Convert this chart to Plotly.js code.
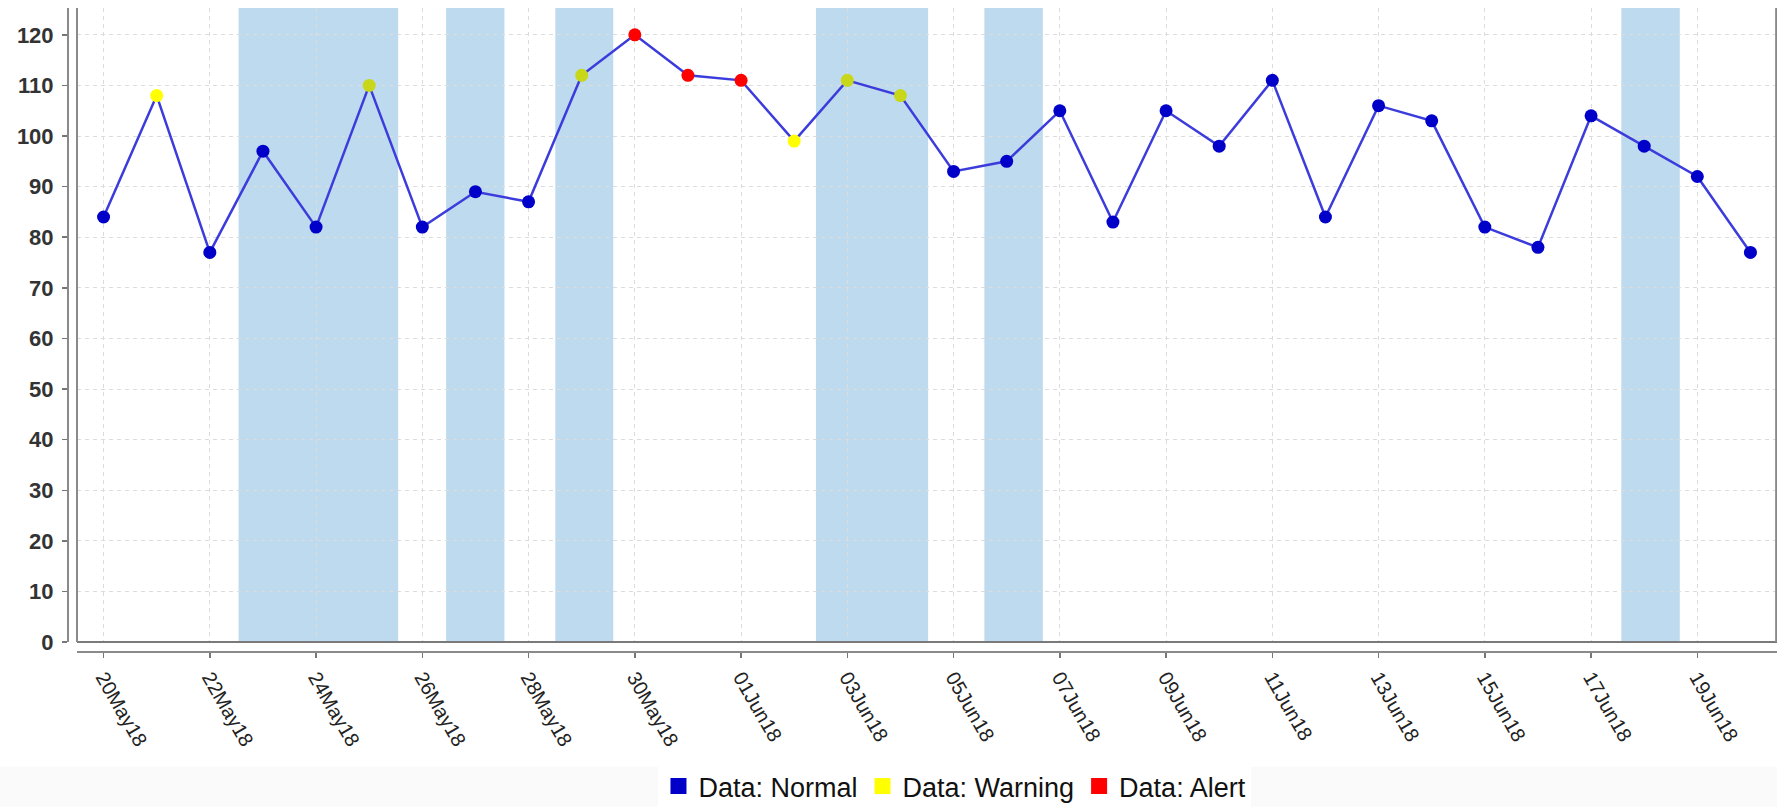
<!DOCTYPE html>
<html>
<head>
<meta charset="utf-8">
<script src="https://cdn.plot.ly/plotly-3.0.1.min.js"></script>
<style>
  html, body { margin: 0; padding: 0; background: #ffffff; }
  #chart { width: 1777px; height: 811px; }
</style>
</head>
<body>
<div id="chart"></div>
<script>
// readings, one per day
const dates = [
    '2018-05-20', '2018-05-21', '2018-05-22', '2018-05-23', '2018-05-24', '2018-05-25',
    '2018-05-26', '2018-05-27', '2018-05-28', '2018-05-29', '2018-05-30', '2018-05-31',
    '2018-06-01', '2018-06-02', '2018-06-03', '2018-06-04', '2018-06-05', '2018-06-06',
    '2018-06-07', '2018-06-08', '2018-06-09', '2018-06-10', '2018-06-11', '2018-06-12',
    '2018-06-13', '2018-06-14', '2018-06-15', '2018-06-16', '2018-06-17', '2018-06-18',
    '2018-06-19', '2018-06-20'
];
const values = [84, 108, 77, 97, 82, 110, 82, 89, 87, 112, 120, 112,
                111, 99, 111, 108, 93, 95, 105, 83, 105, 98, 111, 84,
                106, 103, 82, 78, 104, 98, 92, 77];
const status = ['N', 'W', 'N', 'N', 'N', 'W', 'N', 'N', 'N', 'W', 'A', 'A',
                'A', 'W', 'W', 'W', 'N', 'N', 'N', 'N', 'N', 'N', 'N', 'N',
                'N', 'N', 'N', 'N', 'N', 'N', 'N', 'N'];

// shaded periods
const bandStart = ['2018-05-22 13:00', '2018-05-26 10:45', '2018-05-28 12:05',
                   '2018-06-02 09:50', '2018-06-05 13:55', '2018-06-17 13:40'];
const bandEnd   = ['2018-05-25 13:05', '2018-05-27 13:05', '2018-05-29 14:15',
                   '2018-06-04 12:30', '2018-06-06 16:20', '2018-06-18 16:05'];

const legendNames = ['Data: Normal', 'Data: Warning', 'Data: Alert'];
const statusKeys = ['N', 'W', 'A'];
const statusColors = {N: '#0000c8', W: '#ffff00', A: '#ff0000'};
const warnInBand = '#c8d71a';

function inBand(d) {
    let t = new Date(d.replace(' ', 'T')).getTime();
    for (let i = 0; i < bandStart.length; i++) {
        let a = new Date(bandStart[i].replace(' ', 'T')).getTime();
        let b = new Date(bandEnd[i].replace(' ', 'T')).getTime();
        if (t >= a && t <= b) return true;
    }
    return false;
}

let data = [];

// connecting line
data.push({
    x: dates, y: values,
    type: 'scatter', mode: 'lines',
    line: {color: '#3c3cdc', width: 2.5},
    showlegend: false, hoverinfo: 'skip'
});

// markers per status
statusKeys.forEach(function(k) {
    let xs = [], ys = [], cs = [];
    for (let i = 0; i < dates.length; i++) {
        if (status[i] !== k) continue;
        xs.push(dates[i]);
        ys.push(values[i]);
        cs.push(k === 'W' && inBand(dates[i]) ? warnInBand : statusColors[k]);
    }
    data.push({
        x: xs, y: ys,
        type: 'scatter', mode: 'markers',
        marker: {color: cs, size: 13},
        showlegend: false
    });
});

// legend swatches
statusKeys.forEach(function(k, i) {
    data.push({
        x: [null], y: [null],
        type: 'scatter', mode: 'markers',
        name: legendNames[i],
        marker: {color: statusColors[k], symbol: 'square', size: 20},
        showlegend: true
    });
});

let shapes = bandStart.map(function(s, i) {
    return {
        type: 'rect', layer: 'below',
        xref: 'x', yref: 'y',
        x0: s, x1: bandEnd[i], y0: 0, y1: 125.3,
        fillcolor: '#bedaee', line: {width: 0}
    };
});
// plot edges (left and right)
shapes.push({type: 'line', xref: 'paper', yref: 'paper',
             x0: 0.00527, x1: 0.00527, y0: 0.0154, y1: 1,
             line: {color: '#8a8a8a', width: 2}});
shapes.push({type: 'line', xref: 'paper', yref: 'paper',
             x0: 0.9995, x1: 0.9995, y0: 0.0154, y1: 1,
             line: {color: '#8a8a8a', width: 2}});
// faint grey strip behind the legend row
shapes.push({type: 'rect', layer: 'below', xref: 'paper', yref: 'paper',
             x0: -0.04, x1: 1, y0: -0.24, y1: -0.178,
             fillcolor: '#fafafa', line: {width: 0}});

const layout = {
    width: 1777, height: 811,
    margin: {l: 68, r: 0, t: 8, b: 155},
    paper_bgcolor: '#ffffff',
    plot_bgcolor: 'rgba(0,0,0,0)',
    font: {family: 'Liberation Sans, Arial, sans-serif'},
    showlegend: true,
    xaxis: {
        type: 'date',
        domain: [0.00527, 1],
        anchor: 'free', position: 0,
        range: ['2018-05-19 12:00', '2018-06-20 12:00'],
        tick0: '2018-05-20', dtick: 2 * 86400000,
        tickformat: '%d%b%y',
        tickangle: 60,
        ticks: 'outside', ticklen: 5, tickwidth: 1.5, tickcolor: '#777',
        tickfont: {size: 20, color: '#222'},
        showline: true, linecolor: '#8a8a8a', linewidth: 2,
        showgrid: true, gridcolor: '#dcdcdc', gridwidth: 1, griddash: '4px,4px',
        zeroline: false
    },
    yaxis: {
        domain: [0.0154, 1],
        anchor: 'free', position: 0,
        range: [0, 125.3],
        tick0: 0, dtick: 10,
        ticks: 'outside', ticklen: 5, tickwidth: 1.5, tickcolor: '#777',
        tickfont: {size: 22, color: '#333', weight: 'bold'},
        ticklabelstandoff: 4,
        showline: true, linecolor: '#8a8a8a', linewidth: 2,
        showgrid: true, gridcolor: '#dcdcdc', gridwidth: 1, griddash: '4px,4px',
        zeroline: true, zerolinecolor: '#7a7a7a', zerolinewidth: 2
    },
    legend: {
        orientation: 'h',
        x: 0.519, xanchor: 'center',
        y: -0.209, yanchor: 'middle',
        bgcolor: '#ffffff',
        font: {size: 27, color: '#111'},
        itemwidth: 30
    },
    shapes: shapes
};

Plotly.newPlot('chart', data, layout, {displayModeBar: false, staticPlot: true});
</script>
</body>
</html>
